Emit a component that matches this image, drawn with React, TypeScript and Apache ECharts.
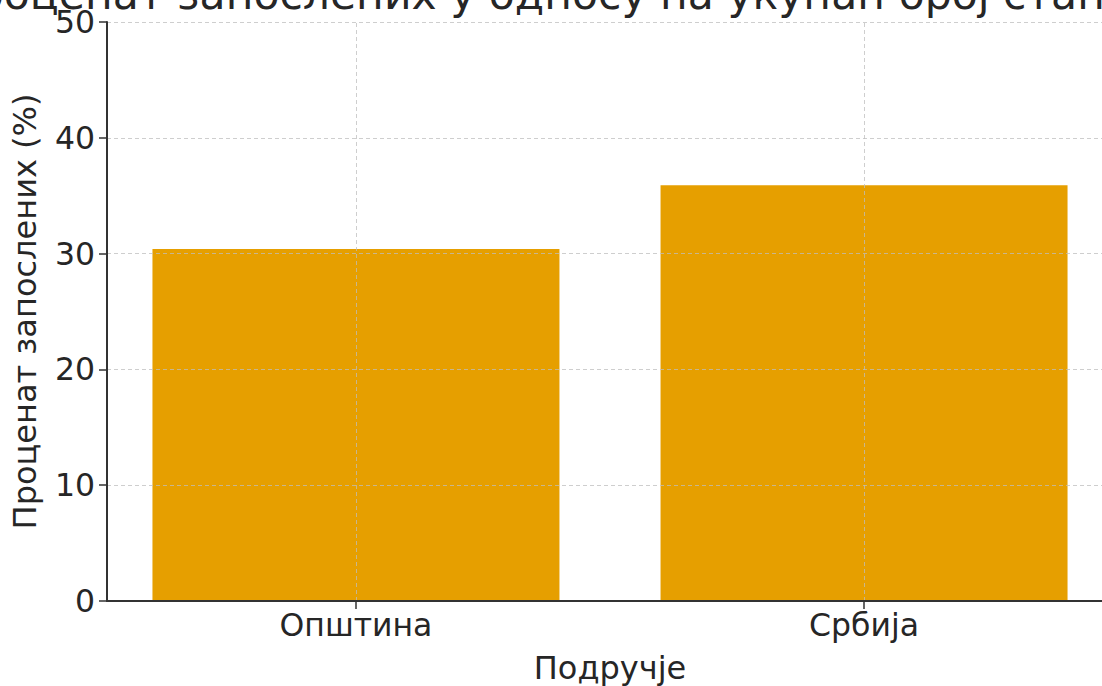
import React, { useEffect, useRef } from "react";
import * as echarts from "echarts";

const categories = ["Општина", "Србија"];
const values = [30.4, 35.9];
const yTicks = [0, 10, 20, 30, 40, 50];
const titleText = "Проценат запослених у односу на укупан број становника";
const xName = "Подручје";
const yName = "Проценат запослених (%)";

export default function App() {
  const ref = useRef<HTMLDivElement>(null);
  useEffect(() => {
    if (!ref.current) return;
    const chart = echarts.init(ref.current, null, { renderer: "svg" });
    const font = "DejaVu Sans";
    const textColor = "#262626";
    const gridColor = "rgba(190,190,190,0.75)";
    chart.setOption({
      animation: false,
      textStyle: { fontFamily: font },
      graphic: [
        {
          type: "text",
          x: 604,
          y: 16,
          z: 10,
          style: {
            text: titleText,
            fontFamily: font,
            fontSize: 42.5,
            fill: textColor,
            textAlign: "center",
            textVerticalAlign: "bottom",
          },
        },
      ],
      grid: { left: 107, top: 22, bottom: 85, width: 1006, outerBoundsMode: "none", containLabel: false },
      xAxis: {
        type: "value",
        min: -0.49,
        max: 1.49,
        z: 6,
        name: xName,
        nameLocation: "middle",
        nameGap: 51,
        nameTextStyle: { fontSize: 32, color: textColor, fontFamily: font },
        axisLine: { show: true, onZero: false, lineStyle: { color: "#333", width: 2 } },
        axisTick: {
          show: true,
          customValues: [0, 1],
          length: 8,
          lineStyle: { color: "#333", width: 1.5 },
        },
        axisLabel: {
          customValues: [0, 1],
          formatter: (v: number) => categories[Math.round(v)] ?? "",
          fontSize: 31.5,
          color: textColor,
          fontFamily: font,
          margin: 8,
        },
        splitLine: { show: false },
      },
      yAxis: {
        type: "value",
        min: 0,
        max: 50,
        interval: 10,
        z: 5,
        name: yName,
        nameLocation: "middle",
        nameGap: 66,
        nameTextStyle: { fontSize: 32, color: textColor, fontFamily: font },
        axisLine: { show: true, onZero: false, lineStyle: { color: "#333", width: 2 } },
        axisTick: { show: true, length: 8, lineStyle: { color: "#333", width: 1.5 } },
        axisLabel: {
          fontSize: 31.5,
          color: textColor,
          fontFamily: font,
          margin: 12,
          formatter: (v: number) => (yTicks.includes(v) ? String(v) : ""),
        },
        splitLine: {
          show: true,
          lineStyle: { color: gridColor, type: [4, 3], width: 1 },
        },
      },
      series: [
        {
          type: "bar",
          data: values.map((v, i) => [i, v]),
          barWidth: 407,
          itemStyle: { color: "#E69F00" },
          markLine: {
            silent: true,
            symbol: "none",
            label: { show: false },
            lineStyle: { color: gridColor, type: [4, 3], width: 1 },
            data: categories.map((_, i) => ({ xAxis: i })),
          },
        },
      ],
    });
    return () => chart.dispose();
  }, []);
  return (
    <div
      ref={ref}
      style={{ position: "fixed", left: 0, top: 0, width: 1102, height: 686, background: "#fff" }}
    />
  );
}
